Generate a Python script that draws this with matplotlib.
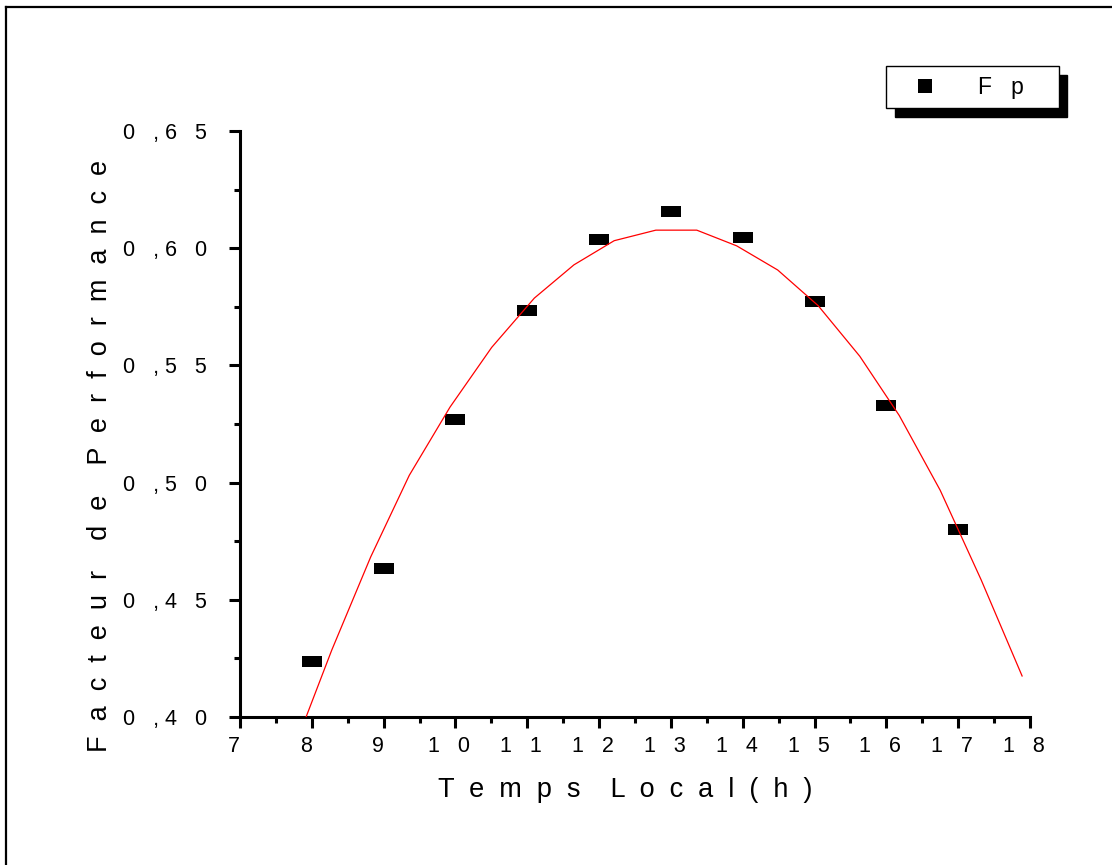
import matplotlib
matplotlib.use("Agg")
import matplotlib.pyplot as plt
from matplotlib.lines import Line2D
from matplotlib.ticker import FixedLocator, FixedFormatter, MultipleLocator
import matplotlib.transforms as mtransforms

# ---- data ----
hours = [8, 9, 10, 11, 12, 13, 14, 15, 16, 17]
fp = [0.424, 0.4635, 0.527, 0.5736, 0.6039, 0.6159, 0.6046, 0.5773, 0.5333, 0.4802]

fit_x = [7.92, 8.277, 8.82, 9.357, 9.924, 10.505, 11.098, 11.65, 12.21, 12.79,
         13.36, 13.916, 14.487, 15.05, 15.63, 16.18, 16.75, 17.32, 17.89]
fit_y = [0.400, 0.4285, 0.4683, 0.5031, 0.5322, 0.5577, 0.5787, 0.5929, 0.6032, 0.6077,
         0.6077, 0.6010, 0.5907, 0.5755, 0.5539, 0.5286, 0.4967, 0.4585, 0.4175]

xtick_values = [7, 8, 9, 10, 11, 12, 13, 14, 15, 16, 17, 18]
xtick_labels = ["7", "8", "9", "1   0", "1   1", "1   2", "1   3", "1   4",
                "1   5", "1   6", "1   7", "1   8"]
ytick_values = [0.40, 0.45, 0.50, 0.55, 0.60, 0.65]
ytick_labels = ["0   , 4   0", "0   , 4   5", "0   , 5   0", "0   , 5   5",
                "0   , 6   0", "0   , 6   5"]

xlabel = "T  e  m  p  s    L  o  c  a  l  (  h  )"
ylabel = "F  a  c  t  e  u  r    d  e    P  e  r  f  o  r  m  a  n  c  e"
legend_label = "F   p    "

plt.rcParams['font.family'] = ['Liberation Sans', 'DejaVu Sans']

W, H = 1112, 865
fig = plt.figure(figsize=(W / 100, H / 100), dpi=100)
ax = fig.add_axes([240 / W, 1 - 717 / H, 790 / W, 586 / H])

rect_marker = [(-1, -0.55), (1, -0.55), (1, 0.55), (-1, 0.55), (-1, -0.55)]
ax.plot(hours, fp, linestyle='none', marker=rect_marker, markersize=14.4,
        color='black', markeredgewidth=0, zorder=2)
ax.plot(fit_x, fit_y, color='red', linewidth=0.9, zorder=3)

ax.set_xlim(7, 18)
ax.set_ylim(0.40, 0.65)

for s in ['top', 'right']:
    ax.spines[s].set_visible(False)
for s in ['left', 'bottom']:
    ax.spines[s].set_linewidth(2.2)

ax.xaxis.set_major_locator(FixedLocator(xtick_values))
ax.xaxis.set_major_formatter(FixedFormatter(xtick_labels))
ax.xaxis.set_minor_locator(MultipleLocator(0.5))
ax.yaxis.set_major_locator(FixedLocator(ytick_values))
ax.yaxis.set_major_formatter(FixedFormatter(ytick_labels))
ax.yaxis.set_minor_locator(MultipleLocator(0.025))

ax.tick_params(axis='both', which='major', direction='out', length=8, width=2.2,
               labelsize=15.5, color='black')
ax.tick_params(axis='both', which='minor', direction='out', length=4, width=2.2)
ax.tick_params(axis='x', which='major', pad=6)
ax.tick_params(axis='y', which='major', pad=16)

offset = mtransforms.ScaledTranslation(-6 / 100, 0, fig.dpi_scale_trans)
for lab in ax.get_xticklabels():
    lab.set_transform(lab.get_transform() + offset)

ax.set_xlabel(xlabel, fontsize=19.5)
ax.set_ylabel(ylabel, fontsize=19.5)
ax.xaxis.set_label_coords((625 - 240) / 790, (717 - 790) / 586)
ax.xaxis.label.set_va('center')
ax.yaxis.set_label_coords((100 - 240) / 790, (717 - 456) / 586)
ax.yaxis.label.set_va('center')

handle = Line2D([], [], linestyle='none', marker='s', markersize=10,
                color='black', markeredgewidth=0)
leg = ax.legend([handle], [legend_label], loc='upper left',
                bbox_to_anchor=(886 / W, 1 - 66 / H), bbox_transform=fig.transFigure,
                borderaxespad=0, fontsize=16.5, frameon=True, fancybox=False,
                framealpha=1, edgecolor='black', borderpad=0.42,
                handlelength=2.6, handletextpad=0.98,
                shadow={'ox': 6.3, 'oy': -6.3, 'facecolor': 'black',
                        'edgecolor': 'black', 'alpha': 1})
leg.get_frame().set_linewidth(1.0)

# outer page frame
fig.add_artist(Line2D([6 / W, 6 / W], [0, 1 - 7 / H], transform=fig.transFigure,
                      color='black', linewidth=1.6))
fig.add_artist(Line2D([6 / W, 1], [1 - 7 / H, 1 - 7 / H], transform=fig.transFigure,
                      color='black', linewidth=1.6))

fig.savefig('out.png', dpi=100)
